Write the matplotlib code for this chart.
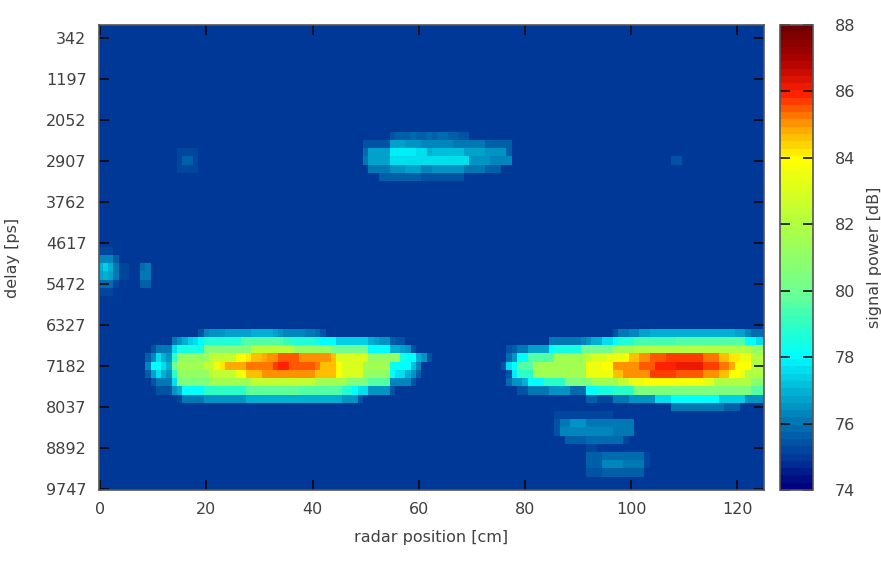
import numpy as np
import matplotlib
matplotlib.use('Agg')
import matplotlib.pyplot as plt
from matplotlib.colors import LinearSegmentedColormap

# background level of the map
floor_db = 75.0

delay_ticks = [342, 1197, 2052, 2907, 3762, 4617, 5472, 6327, 7182, 8037, 8892, 9747]
pos_ticks = [0, 20, 40, 60, 80, 100, 120]
cbar_ticks = [74, 76, 78, 80, 82, 84, 86, 88]

# colours
cbar_levels = [74, 75, 76, 77, 78, 79, 80, 82, 84, 85, 86, 87, 88]
cbar_colors = ['#000080', '#00409c', '#0078b4', '#00b8d8', '#00ffff', '#30ffc0', '#70ff90',
               '#b0ff40', '#ffff00', '#ffa000', '#ff2000', '#b00000', '#700000']

# left blob, rows start at column 9
left_start = 9
left_6498 = [75]*10 + [75.5, 76.3, 76.5, 76.6, 76.6, 76.7, 76.7, 76.7, 76.8, 76.8, 76.9, 77, 77, 76.9, 76.8, 76.6, 76.4, 76.4, 76.2, 76.2, 76.1, 76, 75.8, 75.5]
left_6669 = [75]*5 + [76, 76.5, 77, 77.3, 77.6, 78] + [78.8]*7 + [79.5]*8 + [79.2, 78.9, 78.8, 78.8, 78.8, 78.8, 78.2, 78, 78, 78, 77.3, 77.3, 77.3, 77.3, 77.3, 77.3, 77, 76.8, 76.6, 76.5, 75.6, 75.5, 75.4]
left_6840 = [75, 75.5, 76, 76, 76, 77.5, 78.5, 78.5, 78.5, 78.5, 78.5] + [80.7]*9 + [82.2]*8 + [81]*7 + [80]*7 + [78]*4 + [77, 77, 76.7, 76.5, 75.5]
left_7011 = [75.7, 76.3, 77.5, 77, 76.5, 79] + [81]*6 + [82.5]*5 + [83.8, 84, 84.2, 84.5, 84.7, 84.8, 85, 85, 85.5, 85.5, 85.5, 85.5, 85, 85, 85, 85, 85, 85, 84.5] + [83]*6 + [81]*6 + [78.5, 78, 78, 77, 76.5, 75.5]
left_7182 = [76.3, 78, 78, 77.5, 77, 80] + [81.5]*5 + [82.5, 82.5, 83.5, 84.2, 84.8, 84.8, 84.8, 84.8] + [85.2]*5 + [85.6, 86, 86, 85.5, 85.5, 85.5, 85.5, 85.5, 85.2, 84.7, 84.7, 84.7, 84] + [83]*4 + [81.5]*5 + [78.3, 78, 78, 78, 77.2, 76.3]
left_7353 = [75.7, 76.8, 77.5, 77, 76.5, 79] + [81]*6 + [82.5]*5 + [83.5, 84, 84.5, 84.5, 84.5] + [85]*10 + [84.5]*4 + [84] + [83]*4 + [81]*5 + [78, 77.5, 77.5, 77, 76.5, 75.7]
left_7524 = [75, 75.5, 76, 76, 76, 77.5] + [80.5]*6 + [81.5]*8 + [82.5]*12 + [81.5]*6 + [80.5]*4 + [79.5]*4 + [76.3]*4 + [75.5]
left_7695 = [75, 75, 75.5, 75.5, 75.5, 76.5, 77, 78, 78, 78, 78] + [79]*8 + [79.8]*10 + [79.5]*8 + [78.8, 78.6, 78, 77.5, 77.5, 76.5, 76.5, 76.5, 76.5, 75.5]
left_7866 = [75]*6 + [75.3, 76, 76, 76, 76] + [76.5]*8 + [77]*18 + [76.5]*3 + [75.5]

# right blob, rows start at column 76
right_start = 76
right_6498 = [75]*21 + [75.5, 76, 76, 76.3, 76.3, 76.7, 76.7] + [77]*16 + [76.8, 76.8, 76.3, 75.8, 75.8, 75.8]
right_6669 = [75]*9 + [76]*6 + [76.3, 76.5, 77, 77, 77.5, 77.5, 78] + [78.6]*3 + [79.3]*8 + [79.5]*13 + [78, 78, 77.7, 77.7]
right_6840 = [75, 75.5, 75.7, 76, 76, 76.8, 76.8, 76.8, 76.8, 78] + [78.5]*5 + [80]*6 + [81.5]*4 + [82]*22 + [81]*3
right_7011 = [75, 75.8, 76.5, 78, 78] + [79.5]*5 + [81.5]*6 + [82.5, 83, 83, 83, 83.5, 83.5, 83.5, 84, 84.5, 84.5, 85, 85, 85.5, 85.5, 85.5] + [85.6]*7 + [85.2]*3 + [84.7, 84.7, 84.2, 84.2, 83.5, 83.5, 82, 82, 82]
right_7182 = [75.5, 77.5, 78, 79.5, 79.5, 79.5] + [81.5]*10 + [83.5]*3 + [84, 84, 85, 85, 85, 85, 85, 85.5, 85.5, 85.5] + [86]*4 + [86.2]*5 + [85.8]*3 + [85.2, 85.2, 84.8, 84, 84, 84, 82, 82, 82, 82]
right_7353 = [75, 75.5, 77.8, 79, 79, 79] + [81.5]*10 + [83.5]*5 + [84.5, 84.5] + [85]*5 + [85.7]*5 + [85.4]*5 + [85]*3 + [84.7, 84.5, 84, 84, 83.5, 82, 82, 82, 82]
right_7524 = [75, 75.8, 76.5, 76.5, 77, 78, 78, 78, 79, 79, 79, 79] + [80.5]*5 + [81.5]*5 + [82.5, 82.5, 83.5, 83.5, 83.5] + [84]*6 + [83.8]*5 + [83.3, 83.3] + [82]*7 + [80.8]*3
right_7695 = [75]*3 + [75.5, 75.5, 76, 76, 76, 76, 76.5, 76.5, 76.5, 76.5, 75.8, 75.8, 75.8, 78, 78, 78.5, 78.5, 78.5, 79, 79, 79, 79] + [80.5]*22 + [79.5]*3
right_7866 = [75]*16 + [75.7, 75.7, 75.3, 75.2, 75.2, 76, 76, 76, 76.5, 76.5, 76.5, 76.5, 76.5, 77.5, 77.5, 77.5] + [78]*9 + [77.3]*5 + [76.5]*4
right_8037 = [75]*32 + [76]*10 + [75.6]*3

# faint blobs under the right one, rows start at column 86
low_start = 86
low_8208 = [75.3]*11
low_8379 = [75.5, 76, 76, 76.5, 76.5, 76.5, 76, 76, 76, 76, 76, 76, 76, 76, 76]
low_8550 = [75.5, 76.3, 76.3, 76.3, 76.3, 76.3, 76.3, 76.3, 76.3, 76.3, 76.3, 76.1, 76.1, 76.1, 76.1]
low_8721 = [75, 75, 75.6, 75.6, 75.6, 75.6, 75.8, 75.8, 75.8, 75.8, 75.8, 75.8, 75.8, 75.3]
low_8892 = [75]*6 + [75.2, 75.2]
low_9063 = [75]*6 + [75.6, 75.6, 75.6] + [75.9]*8 + [75.2]
low_9234 = [75]*6 + [75.7, 75.7, 75.7, 76.2, 76.2, 76.2, 76.2, 76, 76, 76, 76, 75.3]
low_9405 = [75]*6 + [75.5, 75.5, 75.5] + [75.7]*8

# middle blob, rows start at column 50
mid_start = 50
mid_2394 = [75]*5 + [75.5, 75.6, 75.7, 75.7, 75.8, 75.6, 75.7, 75.8, 75.7, 75.8, 75.8, 75.7, 75.7, 75.5, 75.5]
mid_2565 = [75.4]*5 + [76.8, 76.8, 76.8, 76.5, 76.5, 76.5] + [76.3]*6 + [76]*6 + [75.6]*5
mid_2736 = [75.8, 76.8, 76.8, 76.8, 76.8, 77.8, 77.8, 77.8, 77.8, 77.8, 77.5, 77.5, 77, 77.2, 77.2, 77.2, 77.2, 77.2, 77.2, 76.8, 76.8, 76.8, 76.8, 76.5, 76.5, 76.5, 76.5, 75.7]
mid_2907 = [76, 76.8, 76.8, 76.8, 76.8] + [77.7]*6 + [77.5]*9 + [76.5]*4 + [76.3]*4
mid_3078 = [75, 76, 76, 76, 76, 76.5, 76.5, 76.5, 76.7, 76.7, 76.7, 76.3, 76.3] + [76.5]*6 + [76]*4 + [75.7]*3
mid_3249 = [75, 75, 75, 75.6, 75.6, 75.6, 75.6, 75.6, 75.6, 75.6, 75.6] + [75.4]*8

# blips at the left edge, rows start at column 0
edge_start = 0
edge_4788 = [75.3, 75.3, 75.3]
edge_4959 = [76.3, 76.4, 76.3, 75.7]
edge_5130 = [77, 77.3, 77, 76, 75.3, 75.2, 75, 75, 75.9, 76]
edge_5301 = [76.7, 76.9, 76.7, 76, 75.3, 75.3, 75, 75, 76, 76]
edge_5472 = [75.8, 75.8, 75.8, 75.2, 75, 75, 75, 75, 75.7, 75.7]
edge_5643 = [75.2, 75.2, 75.2]

# very faint spots
spot_start = 15
spot_2736 = [75.2, 75.3, 75.3, 75.2]
spot_2907 = [75.3, 75.6, 75.6, 75.3]
spot_3078 = [75.1, 75.3, 75.3, 75.1]
spot2_start = 108
spot2_2907 = [75.4, 75.5]

rows = [
    (6498, left_start, left_6498), (6669, left_start, left_6669), (6840, left_start, left_6840),
    (7011, left_start, left_7011), (7182, left_start, left_7182), (7353, left_start, left_7353),
    (7524, left_start, left_7524), (7695, left_start, left_7695), (7866, left_start, left_7866),
    (6498, right_start, right_6498), (6669, right_start, right_6669), (6840, right_start, right_6840),
    (7011, right_start, right_7011), (7182, right_start, right_7182), (7353, right_start, right_7353),
    (7524, right_start, right_7524), (7695, right_start, right_7695), (7866, right_start, right_7866),
    (8037, right_start, right_8037),
    (8208, low_start, low_8208), (8379, low_start, low_8379), (8550, low_start, low_8550),
    (8721, low_start, low_8721), (8892, low_start, low_8892), (9063, low_start, low_9063),
    (9234, low_start, low_9234), (9405, low_start, low_9405),
    (2394, mid_start, mid_2394), (2565, mid_start, mid_2565), (2736, mid_start, mid_2736),
    (2907, mid_start, mid_2907), (3078, mid_start, mid_3078), (3249, mid_start, mid_3249),
    (4788, edge_start, edge_4788), (4959, edge_start, edge_4959), (5130, edge_start, edge_5130),
    (5301, edge_start, edge_5301), (5472, edge_start, edge_5472), (5643, edge_start, edge_5643),
    (2736, spot_start, spot_2736), (2907, spot_start, spot_2907), (3078, spot_start, spot_3078),
    (2907, spot2_start, spot2_2907),
]

n_cols = 126
n_rows = 57
grid = np.full((n_rows, n_cols), floor_db)
for delay, start, vals in rows:
    k = int(round(delay / 171.0)) - 1
    vals = np.array(vals[:n_cols - start])
    grid[k, start:start + len(vals)] = vals

text_col = '#404040'
plt.rcParams['font.family'] = 'DejaVu Sans'
plt.rcParams['font.size'] = 11.5

W, H = 881.0, 563.0
fig = plt.figure(figsize=(W / 100, H / 100), dpi=100)
ax = fig.add_axes([99 / W, 1 - 490 / H, 665 / W, 465 / H])
cax = fig.add_axes([780 / W, 1 - 490 / H, 33 / W, 465 / H])

pos = [(l - 74) / 14.0 for l in cbar_levels]
cmap = LinearSegmentedColormap.from_list('radar', list(zip(pos, cbar_colors)), N=64)

im = ax.imshow(grid, cmap=cmap, vmin=74, vmax=88, aspect='auto', interpolation='nearest',
               extent=[-0.5, 125.5, 9832.5, 85.5])
ax.set_xlim(-0.2, 125)
ax.set_ylim(9768, 72)
ax.set_xticks(pos_ticks)
ax.set_yticks(delay_ticks)
ax.tick_params(direction='in', top=True, right=True, length=7, width=1.1, color='black',
               labelcolor=text_col, pad=9)
for s in ax.spines.values():
    s.set_color('#555555')
    s.set_linewidth(1.2)
ax.set_xlabel('radar position [cm]', color=text_col, labelpad=9)
ax.yaxis.set_label_coords((20 - 99) / 665.0, 0.5)
ax.set_ylabel('delay [ps]', color=text_col)

cb = fig.colorbar(im, cax=cax)
cb.set_ticks(cbar_ticks)
cax.tick_params(direction='in', left=True, right=True, length=7, width=1.1, color='black',
                labelcolor=text_col, pad=16)
cb.outline.set_edgecolor('#555555')
cb.outline.set_linewidth(1.2)
cb.set_label('signal power [dB]', color=text_col, labelpad=8)

plt.savefig('out.png', dpi=100)
